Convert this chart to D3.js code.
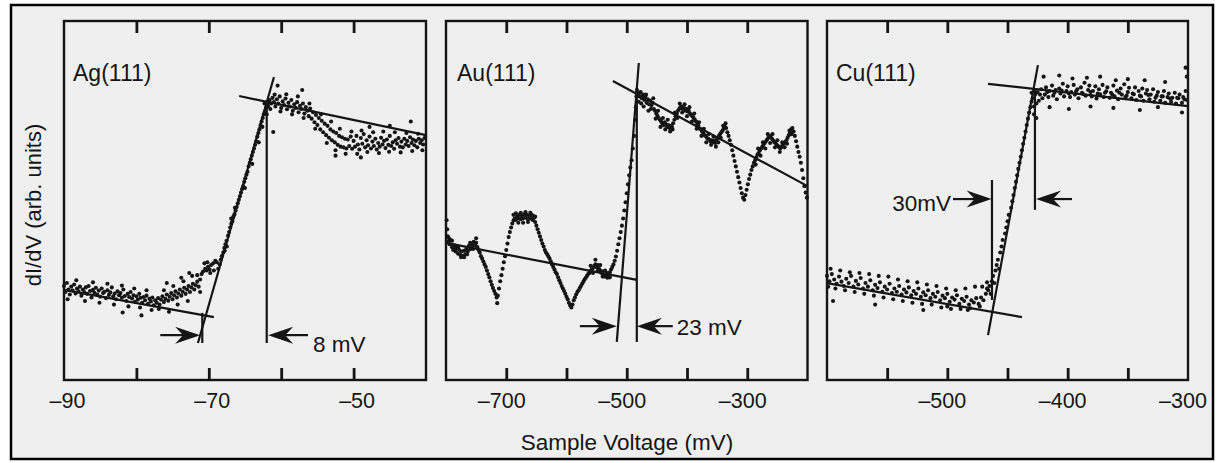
<!DOCTYPE html>
<html><head><meta charset="utf-8">
<script src="https://cdn.jsdelivr.net/npm/d3@7"></script>
<style>body{margin:0;background:#fff}</style>
</head><body>
<svg id="chart" width="1220" height="463"></svg>
<script>
// ---------- data (mV, dI/dV arb. units) ----------
const agTicks=[-80,-70,-60,-50];
const agLabelValues=[-90,-70,-50];
const agLabelText=["–90","–70","–50"];
const auTicks=[-700,-600,-500,-400,-300];
const auLabelValues=[-700,-500,-300];
const auLabelText=["–700","–500","–300"];
const cuTicks=[-550,-500,-450,-400,-350];
const cuLabelValues=[-500,-400,-300];
const cuLabelText=["–500","–400","–300"];

const agPoints=[
[-90.0,2.62],[-89.8,2.45],[-89.6,2.70],[-89.4,2.52],[-89.2,2.38],[-89.0,2.60],[-88.8,2.49],[-88.6,2.66],[-88.4,2.41],[-88.2,2.55],[-88.0,2.47],[-87.8,2.60],[-87.6,2.35],[-87.4,2.52],[-87.2,2.44],[-87.0,2.58],[-86.8,2.40],[-86.6,2.62],[-86.4,2.48],[-86.2,2.30],[-86.0,2.51],[-85.8,2.43],[-85.6,2.57],[-85.4,2.38],[-85.2,2.49],[-85.0,2.32],[-84.8,2.55],[-84.6,2.42],[-84.4,2.46],[-84.2,2.28],[-84.0,2.50],[-83.8,2.37],[-83.6,2.44],[-83.4,2.58],[-83.2,2.33],[-83.0,2.41],[-82.8,2.25],[-82.6,2.47],[-82.4,2.36],[-82.2,2.42],[-82.0,2.30],[-81.8,2.52],[-81.6,2.34],[-81.4,2.20],[-81.2,2.40],[-81.0,2.31],[-80.8,2.45],[-80.6,2.27],[-80.4,2.36],[-80.2,2.18],[-80.0,2.33],[-79.8,2.24],[-79.6,2.40],[-79.4,2.29],[-79.2,2.15],[-79.0,2.31],[-78.8,2.22],[-78.6,2.35],[-78.4,2.12],[-78.2,2.26],[-78.0,2.19],[-77.8,2.30],[-77.6,2.08],[-77.4,2.22],[-77.2,2.15],[-77.0,2.28],[-76.8,2.10],[-76.6,2.24],[-76.4,2.33],[-76.2,2.17],[-76.0,2.26],[-75.8,2.38],[-75.6,2.21],[-75.4,2.32],[-75.2,2.42],[-75.0,2.25],[-74.8,2.36],[-74.6,2.47],[-74.4,2.30],[-74.2,2.41],[-74.0,2.52],[-73.8,2.35],[-73.6,2.46],[-73.4,2.57],[-73.2,2.40],[-73.0,2.52],[-72.8,2.62],[-72.6,2.45],[-72.4,2.58],[-72.2,2.68],[-72.0,2.52],[-71.8,2.64],[-71.6,2.74],[-71.4,2.60],
[-89.5,2.25],[-88.3,2.78],[-87.1,2.20],[-86.0,2.72],[-85.1,2.15],[-84.0,2.68],[-83.1,2.10],[-82.0,2.63],[-81.1,2.05],[-80.3,2.55],[-79.5,2.02],[-78.6,2.50],[-77.9,1.95],[-76.9,1.98],[-76.2,2.50],[-75.5,1.90],[-74.9,2.62],[-74.3,2.10],[-73.5,2.75],[-72.9,2.20],[-72.3,2.90],[-71.2,2.45],[-75.8,2.70],[-71.6,2.92],[-79.3,1.80],[-81.9,1.88],[-73.8,2.85],[-72.7,2.98],
[-71.2,2.80],[-71.0,2.95],[-70.8,3.02],[-70.5,3.10],[-70.3,3.05],[-70.1,3.15],[-69.9,3.08],[-69.7,3.20],[-69.4,3.25],[-69.1,3.32],[-70.6,3.25],[-70.2,3.28],[-69.8,2.98],
[-68.7,3.10],[-68.5,3.22],[-68.35,3.35],[-68.2,3.45],[-68.0,3.55],[-67.85,3.68],[-67.7,3.78],[-67.55,3.88],[-67.35,4.02],[-67.2,4.12],[-67.05,4.25],[-66.9,4.35],[-66.75,4.42],[-66.6,4.55],[-66.45,4.62],[-66.3,4.72],[-66.15,4.82],[-66.0,4.92],[-65.85,5.02],[-65.7,5.12],[-65.55,5.22],[-65.4,5.32],[-65.25,5.40],[-65.1,5.52],[-64.95,5.62],[-64.8,5.72],[-64.65,5.80],[-64.5,5.95],[-64.35,6.05],[-64.2,6.15],[-64.05,6.25],[-63.9,6.35],[-63.75,6.45],[-63.6,6.55],[-63.45,6.65],[-63.3,6.78],[-63.15,6.88],[-63.0,6.98],[-62.85,7.10],[-62.7,7.20],[-62.55,7.30],[-62.4,7.40],[-62.25,7.48],[-62.1,7.58],[-61.95,7.65],
[-68.9,3.28],[-69.3,3.05],[-67.5,3.72],[-66.4,4.80],[-65.0,5.35],[-64.0,6.02],[-63.1,6.62],[-62.6,7.05],[-62.0,7.40],[-61.8,7.72],[-62.3,7.70],[-67.8,3.60],[-66.9,4.50],
[-61.8,7.62],[-61.6,7.80],[-61.4,7.70],[-61.2,7.86],[-61.0,7.74],[-60.8,7.62],[-60.6,7.82],[-60.4,7.70],[-60.2,7.90],[-60.0,7.58],[-59.8,7.76],[-59.6,7.66],[-59.4,7.84],[-59.2,7.54],[-59.0,7.72],[-58.8,7.62],[-58.6,7.80],[-58.4,7.50],[-58.2,7.68],[-58.0,7.58],[-57.8,7.74],[-57.6,7.46],[-57.4,7.64],[-57.2,7.55],[-57.0,7.70],[-56.8,7.42],[-56.6,7.60],[-56.4,7.50],[-56.2,7.35],[-56.0,7.56],[-55.8,7.28],[-55.6,7.46],[-55.4,7.18],[-55.2,7.38],[-55.0,7.10],[-54.8,7.30],[-54.6,6.98],[-54.4,7.22],[-54.2,6.90],[-54.0,7.14],[-53.8,6.82],[-53.6,7.08],[-53.4,6.75],[-53.2,6.98],[-53.0,6.68],[-52.8,6.92],[-52.6,6.62],[-52.4,6.88],[-52.2,6.55],[-52.0,6.80],[-51.8,6.50],[-51.6,6.76],[-51.4,6.48],[-51.2,6.72],[-51.0,6.45],[-50.8,6.70],[-50.6,6.52],[-50.4,6.78],[-50.2,6.44],[-50.0,6.66],[-49.8,6.50],[-49.6,6.80],[-49.4,6.56],[-49.2,6.42],[-49.0,6.74],[-48.8,6.58],[-48.6,6.85],[-48.4,6.48],[-48.2,6.68],[-48.0,6.54],[-47.8,6.78],[-47.6,6.45],[-47.4,6.64],[-47.2,6.52],[-47.0,6.72],[-46.8,6.42],[-46.6,6.60],[-46.4,6.50],[-46.2,6.75],[-46.0,6.56],[-45.8,6.66],[-45.6,6.46],[-45.4,6.70],[-45.2,6.55],[-45.0,6.80],[-44.8,6.52],[-44.6,6.62],[-44.4,6.44],[-44.2,6.68],[-44.0,6.58],[-43.8,6.74],[-43.6,6.50],[-43.4,6.64],[-43.2,6.48],[-43.0,6.72],[-42.8,6.56],[-42.6,6.66],[-42.4,6.52],[-42.2,6.76],[-42.0,6.60],[-41.8,6.70],[-41.6,6.54],[-41.4,6.66],[-41.2,6.48],[-41.0,6.72],[-40.8,6.60],[-40.6,6.68],[-40.4,6.56],[-40.2,6.74],
[-61.5,7.55],[-60.9,7.95],[-60.1,7.48],[-59.3,7.96],[-58.5,7.40],[-57.7,7.90],[-56.9,7.30],[-56.1,7.70],[-55.3,7.00],[-54.5,7.40],[-53.7,6.60],[-53.1,7.20],[-52.5,6.40],[-51.9,7.00],[-51.1,6.30],[-50.3,6.92],[-49.5,6.30],[-48.9,6.95],[-48.1,6.35],[-47.3,6.90],[-46.5,6.32],[-45.9,6.92],[-45.1,6.36],[-44.3,6.90],[-43.5,6.34],[-42.7,6.88],[-41.9,6.38],[-41.1,6.86],[-40.5,6.40],
[-57.1,8.08],[-61.1,6.91],[-60.5,8.20],[-45.0,7.08],[-42.1,7.20],[-47.8,7.05],[-52.5,6.25],[-49.0,6.20]
];

const auPoints=[
[-799,4.45],[-798,4.2],[-797,4.0],[-796,3.85],[-794,3.78],[-792,3.9],[-790,3.7],[-788,3.62],[-786,3.75],[-784,3.58],[-782,3.68],[-780,3.52],[-778,3.62],[-776,3.48],[-774,3.58],[-772,3.45],[-770,3.6],[-768,3.5],[-766,3.66],[-764,3.58],[-762,3.74],[-760,3.64],[-758,3.8],[-756,3.72],[-754,3.85],[-752,3.76],[-750,3.82],[-748,3.7],[-746,3.62],
[-744,3.55],[-742,3.45],[-740,3.38],[-738,3.3],[-736,3.22],[-734,3.15],[-732,3.05],[-730,2.95],[-728,2.86],[-726,2.75],[-724,2.65],[-722,2.56],[-720,2.48],[-718,2.4],[-716,2.3],[-715,2.14],[-714,2.35],[-712,2.55],[-710,2.75],[-708,2.92],[-706,3.1],[-704,3.28],[-702,3.45],[-700,3.62],[-698,3.8],[-696,3.98],[-694,4.12],[-692,4.25],[-690,4.36],[-688,4.44],[-686,4.5],[-684,4.46],[-682,4.56],[-680,4.5],[-678,4.6],[-676,4.48],[-674,4.58],[-672,4.5],[-670,4.62],[-668,4.52],[-666,4.6],[-664,4.48],[-662,4.58],[-660,4.5],[-658,4.6],[-656,4.46],[-654,4.52],[-652,4.4],[-650,4.3],[-648,4.2],[-646,4.1],[-644,4.0],[-642,3.9],[-640,3.8],[-638,3.72],[-636,3.62],[-634,3.55],[-632,3.5],[-630,3.44],[-628,3.38],[-626,3.3],[-624,3.22],[-622,3.15],[-620,3.08],[-618,3.0],[-616,2.95],[-614,2.86],[-612,2.78],[-610,2.7],[-608,2.62],[-606,2.55],[-604,2.48],[-602,2.4],[-600,2.32],[-598,2.25],[-596,2.15],[-594,2.08],[-592,2.02],[-590,2.1],[-588,2.22],[-586,2.3],[-584,2.38],[-582,2.45],[-580,2.5],[-578,2.56],[-576,2.62],[-574,2.68],[-572,2.74],[-570,2.8],[-568,2.85],[-566,2.9],[-564,2.95],[-562,2.98],[-560,3.04],[-558,3.08],[-556,3.12],[-554,3.18],[-552,3.22],[-550,3.14],[-548,3.2],[-546,3.1],[-544,3.05],[-542,2.98],[-540,3.02],[-538,2.92],[-536,2.88],[-534,2.95],[-532,2.85],[-530,2.9],[-528,3.0],[-526,3.08],[-524,3.15],[-522,3.22],[-520,3.32],[-518,3.44],[-516,3.6],[-514,3.78],[-512,3.95],[-510,4.12],[-508,4.3],[-506,4.5],[-504,4.72],[-502,4.95],[-500,5.2],[-498,5.45],[-496,5.7],[-494,5.92],[-492,6.12],[-490,6.45],[-488,6.8],[-486,7.25],[-485,7.6],[-484,7.9],[-483,8.08],
[-481,8.0],[-479,7.9],[-477,8.02],[-475,7.85],[-473,7.95],[-471,7.8],[-469,7.88],[-467,7.72],[-465,7.82],[-463,7.68],[-461,7.78],[-459,7.65],[-457,7.72],[-455,7.55],[-453,7.5],[-451,7.42],[-449,7.36],[-447,7.3],[-445,7.25],[-443,7.2],[-441,7.15],[-439,7.1],[-437,7.18],[-435,7.12],[-433,7.05],[-431,7.1],[-429,7.02],[-427,7.08],[-425,7.05],[-423,7.15],[-421,7.25],[-419,7.35],[-417,7.42],[-415,7.5],[-413,7.55],[-411,7.6],[-409,7.62],[-407,7.55],[-405,7.58],[-403,7.5],[-401,7.55],[-399,7.48],[-397,7.5],[-395,7.42],[-393,7.38],[-391,7.35],[-389,7.3],[-387,7.25],[-385,7.2],[-383,7.12],[-381,7.08],[-379,7.0],[-377,6.98],[-375,6.92],[-373,6.88],[-371,6.82],[-369,6.8],[-367,6.75],[-365,6.72],[-363,6.7],[-361,6.65],[-359,6.68],[-357,6.62],[-355,6.66],[-353,6.6],[-351,6.7],[-349,6.75],[-347,6.8],[-345,6.85],[-343,6.9],[-341,6.95],[-339,7.0],[-337,7.05],[-335,7.02],[-333,6.9],[-331,6.8],[-329,6.68],[-327,6.55],[-325,6.4],[-323,6.25],[-321,6.1],[-319,5.95],[-317,5.8],[-315,5.65],[-313,5.5],[-311,5.35],[-309,5.2],[-307,5.08],[-305,5.02],[-303,5.15],[-301,5.3],[-299,5.45],[-297,5.6],[-295,5.72],[-293,5.85],[-291,5.95],[-289,6.05],[-287,6.12],[-285,6.2],[-283,6.28],[-281,6.32],[-279,6.4],[-277,6.45],[-275,6.5],[-273,6.55],[-271,6.6],[-269,6.65],[-267,6.7],[-265,6.75],[-263,6.78],[-261,6.8],[-259,6.72],[-257,6.68],[-255,6.62],[-253,6.6],[-251,6.55],[-249,6.52],[-247,6.48],[-245,6.45],[-243,6.5],[-241,6.55],[-239,6.6],[-237,6.62],[-235,6.68],[-233,6.75],[-231,6.82],[-229,6.9],[-227,6.98],[-225,7.02],[-223,6.92],[-221,6.8],[-219,6.65],[-217,6.5],[-215,6.35],[-213,6.22],[-211,6.05],[-209,5.85],[-207,5.62],[-205,5.4],[-203,5.22],[-201,5.08],
[-795,3.95],[-790,3.88],[-785,3.65],[-780,3.7],[-775,3.42],[-770,3.42],[-765,3.5],[-760,3.82],[-755,3.65],[-750,3.95],
[-688,4.6],[-684,4.64],[-680,4.38],[-676,4.66],[-672,4.38],[-668,4.68],[-664,4.4],[-660,4.66],[-656,4.58],[-652,4.55],
[-560,3.18],[-556,2.98],[-552,3.35],[-548,3.05],[-544,3.2],[-540,2.88],[-536,3.05],[-532,2.98],[-528,2.86],
[-480,7.75],[-476,7.7],[-472,7.62],[-468,7.95],[-464,7.5],[-460,7.55],[-456,7.85],[-452,7.28],[-448,7.5],[-444,7.05],[-440,7.3],[-436,6.98],[-432,7.25],[-428,6.92],[-424,6.98],[-420,7.45],[-416,7.3],[-412,7.7],[-408,7.45],[-404,7.68],[-400,7.35],[-396,7.6],[-392,7.2],[-388,7.42],[-384,7.0],[-380,7.18],[-376,6.8],[-372,7.0],[-368,6.62],[-364,6.85],[-360,6.55],[-356,6.78],[-352,6.5],[-348,6.62],[-344,6.75],[-340,7.08],[-336,7.15],
[-286,6.0],[-282,6.45],[-278,6.25],[-274,6.62],[-270,6.45],[-266,6.85],[-262,6.6],[-258,6.85],[-254,6.48],[-250,6.68],[-246,6.35],[-242,6.62],[-238,6.48],[-234,6.58],[-230,6.95],[-226,6.85]
];

const cuPoints=[
[-600,2.9],[-598,2.75],[-596,2.95],[-594,2.8],[-592,2.68],[-590,2.88],[-588,2.74],[-586,2.62],[-584,2.82],[-582,2.7],[-580,2.9],[-578,2.6],[-576,2.76],[-574,2.66],[-572,2.84],[-570,2.55],[-568,2.7],[-566,2.6],[-564,2.78],[-562,2.5],[-560,2.65],[-558,2.56],[-556,2.72],[-554,2.46],[-552,2.6],[-550,2.52],[-548,2.68],[-546,2.42],[-544,2.55],[-542,2.46],[-540,2.62],[-538,2.38],[-536,2.52],[-534,2.44],[-532,2.58],[-530,2.36],[-528,2.48],[-526,2.4],[-524,2.55],[-522,2.32],[-520,2.44],[-518,2.36],[-516,2.5],[-514,2.28],[-512,2.4],[-510,2.32],[-508,2.45],[-506,2.22],[-504,2.35],[-502,2.28],[-500,2.4],[-498,2.18],[-496,2.3],[-494,2.24],[-492,2.36],[-490,2.12],[-488,2.26],[-486,2.2],[-484,2.32],[-482,2.1],[-480,2.22],[-478,2.16],[-476,2.28],[-474,2.12],[-472,2.3],[-470,2.22],[-468,2.4],[-466,2.5],[-465,2.62],[-463,2.75],[-462,2.9],[-460,3.05],[-459,3.2],[-458,3.35],[-456,3.55],[-455,3.72],[-454,3.9],[-452,4.08],[-451,4.25],[-450,4.42],[-449,4.6],[-447,4.8],[-446,4.98],[-445,5.15],[-444,5.35],[-443,5.52],[-442,5.7],[-441,5.88],[-440,6.05],[-439,6.22],[-438,6.4],[-437,6.58],[-436,6.75],[-435,6.92],[-434,7.1],[-433,7.28],[-432,7.45],[-431,7.6],[-430,7.75],
[-599,2.6],[-597,3.1],[-593,2.55],[-589,3.05],[-585,2.5],[-581,3.0],[-577,2.45],[-573,2.98],[-569,2.4],[-565,2.95],[-561,2.35],[-557,2.9],[-553,2.3],[-549,2.88],[-545,2.25],[-541,2.8],[-537,2.2],[-533,2.75],[-529,2.15],[-525,2.72],[-521,2.12],[-517,2.66],[-513,2.1],[-509,2.62],[-505,2.02],[-501,2.55],[-497,1.98],[-493,2.5],[-489,1.98],[-485,2.55],[-481,2.0],[-477,2.6],[-473,2.05],[-471,2.6],[-467,2.72],[-595,2.2],[-560,2.1],[-520,1.95],[-500,2.05],[-483,1.95],
[-467,2.55],[-464,2.4],[-461,2.7],[-457,3.1],
[-429,7.85],[-428,7.62],[-427,7.95],[-426,7.7],[-425,8.02],[-424,7.78],[-422,8.1],[-421,7.85],[-419,7.95],[-418,8.15],[-416,7.88],[-415,8.05],[-413,8.2],[-412,7.92],[-410,8.08],[-409,7.82],[-407,8.12],[-406,7.98],[-404,8.25],[-403,7.9],[-401,8.05],[-400,8.18],[-398,7.88],[-397,8.02],[-395,8.22],[-394,7.95],[-392,8.1],[-391,7.85],[-389,8.15],[-388,8.0],[-386,8.28],[-385,7.92],[-383,8.08],[-382,8.2],[-380,7.9],[-379,8.05],[-377,8.18],[-376,7.84],[-374,8.1],[-373,7.96],[-371,8.22],[-370,7.88],[-368,8.04],[-367,8.15],[-365,7.86],[-364,8.0],[-362,8.2],[-361,7.9],[-359,8.06],[-358,7.82],[-356,8.12],[-355,7.95],[-353,8.24],[-352,7.88],[-350,8.02],[-349,8.14],[-347,7.85],[-346,7.98],[-344,8.15],[-343,7.8],[-341,8.05],[-340,7.92],[-338,8.12],[-337,7.78],[-335,7.98],[-334,8.08],[-332,7.82],[-331,7.95],[-329,8.1],[-328,7.75],[-326,7.92],[-325,8.02],[-323,7.78],[-322,7.9],[-320,8.05],[-319,7.72],[-317,7.88],[-316,7.98],[-314,7.75],[-313,7.86],[-311,8.0],[-310,7.7],[-308,7.85],[-307,7.95],[-305,7.72],[-304,7.88],[-302,8.05],[-301,7.8],
[-420,8.45],[-407,8.48],[-396,8.4],[-384,8.42],[-373,8.45],[-360,8.35],[-350,8.38],[-336,8.35],[-319,8.3],[-302,8.7],[-301,8.45],[-415,7.6],[-399,7.55],[-381,7.62],[-362,7.58],[-340,7.52],[-325,7.6],[-305,7.45],[-430,8.0],[-428,7.4],[-426,7.3],
[-423,7.95],[-417,8.02],[-411,8.0],[-405,8.06],[-399,7.98],[-393,8.04],[-387,7.96],[-381,8.02],[-375,7.98],[-369,8.0],[-363,7.95],[-357,8.0],[-351,7.92],[-345,7.96],[-339,7.9],[-333,7.94],[-327,7.86],[-321,7.9],[-315,7.84],[-309,7.86],[-303,7.82]
];

// fitted straight lines [[x1,y1],[x2,y2]]
const agFits=[[[-65.8,7.91],[-40,6.82]],[[-61.0,8.44],[-71.5,1.03]],[[-90,2.51],[-69.3,1.75]]];
const auFits=[[[-523,8.33],[-200,5.40]],[[-480,8.83],[-516.5,1.06]],[[-800,3.82],[-483.3,2.79]]];
const cuFits=[[[-466.2,8.25],[-300,7.63]],[[-424.7,8.77],[-466.2,1.25]],[[-600,2.70],[-438,1.75]]];
// vertical marker lines [x, yTop, yBottom]
const agVerticals=[[-62.0,7.8,1.03],[-70.9,1.87,1.03]];
const auVerticals=[[-483.3,8.13,1.06]];
const cuVerticals=[[-462.9,5.57,2.23],[-427.2,8.13,4.74]];
// arrows [tailX, tipX, y]
const agArrows=[[-76.7,-71.2,1.25],[-56.3,-61.8,1.25]];
const auArrows=[[-577.8,-516.5,1.5],[-423.6,-483.3,1.5]];
const cuArrows=[[-495.3,-463.2,5.04],[-396.4,-426.3,5.04]];
// width labels [x, y, text, anchor]
const agNote=[-55.6,0.78,"8 mV","start"];
const auNote=[-417,1.25,"23 mV","start"];
const cuNote=[-497,4.71,"30mV","end"];

// ---------- drawing ----------
const FONT="'Liberation Sans', Arial, Helvetica, sans-serif";
const INK="#151515";
const svg=d3.select("#chart");
svg.append("rect").attr("x",11).attr("y",5).attr("width",1202).attr("height",454)
  .attr("fill","#efefef").attr("stroke","#000").attr("stroke-width",2.5);

const y=d3.scaleLinear().domain([0,10]).range([380,21]);

const panels=[
 {title:"Ag(111)",domain:[-90,-40],range:[64,426],ticks:agTicks,lv:agLabelValues,lt:agLabelText,ldx:3,points:agPoints,fits:agFits,verts:agVerticals,arrows:agArrows,note:agNote,tdx:9},
 {title:"Au(111)",domain:[-800,-200],range:[446,807.5],ticks:auTicks,lv:auLabelValues,lt:auLabelText,ldx:-5,points:auPoints,fits:auFits,verts:auVerticals,arrows:auArrows,note:auNote,tdx:11},
 {title:"Cu(111)",domain:[-600,-300],range:[827,1188],ticks:cuTicks,lv:cuLabelValues,lt:cuLabelText,ldx:-5.5,points:cuPoints,fits:cuFits,verts:cuVerticals,arrows:cuArrows,note:cuNote,tdx:9}
];

panels.forEach(p=>{
  const x=d3.scaleLinear().domain(p.domain).range(p.range);
  const g=svg.append("g");
  g.append("rect").attr("x",p.range[0]).attr("y",y(10)).attr("width",p.range[1]-p.range[0])
    .attr("height",y(0)-y(10)).attr("fill","none").attr("stroke",INK).attr("stroke-width",2.4);
  const bt=g.append("g").attr("transform",`translate(0,${y(0)})`)
    .call(d3.axisBottom(x).tickValues(p.ticks).tickSize(-12).tickSizeOuter(0).tickFormat(""));
  const tp=g.append("g").attr("transform",`translate(0,${y(10)})`)
    .call(d3.axisTop(x).tickValues(p.ticks).tickSize(-12).tickSizeOuter(0).tickFormat(""));
  [bt,tp].forEach(a=>{a.select(".domain").remove();a.selectAll("line").attr("stroke",INK).attr("stroke-width",2.8);});
  const lab=g.append("g").attr("transform",`translate(0,${y(0)})`)
    .call(d3.axisBottom(x).tickValues(p.lv).tickSize(0).tickPadding(13).tickFormat((d,i)=>p.lt[i]));
  lab.select(".domain").remove();
  lab.attr("font-family",FONT).attr("font-size",21.5);
  lab.selectAll("text").attr("fill",INK).attr("dx",p.ldx);

  g.selectAll("line.fit").data(p.fits).join("line").attr("class","fit")
    .attr("x1",d=>x(d[0][0])).attr("y1",d=>y(d[0][1])).attr("x2",d=>x(d[1][0])).attr("y2",d=>y(d[1][1]))
    .attr("stroke",INK).attr("stroke-width",2.2);
  g.selectAll("line.vert").data(p.verts).join("line").attr("class","vert")
    .attr("x1",d=>x(d[0])).attr("x2",d=>x(d[0])).attr("y1",d=>y(d[1])).attr("y2",d=>y(d[2]))
    .attr("stroke",INK).attr("stroke-width",2.2);

  g.selectAll("circle").data(p.points).join("circle")
    .attr("cx",d=>x(d[0])).attr("cy",d=>y(d[1])).attr("r",2.05).attr("fill",INK);

  p.arrows.forEach(a=>{
    const t0=x(a[0]),t1=x(a[1]),yy=y(a[2]),s=t1>t0?1:-1;
    g.append("line").attr("x1",t0).attr("x2",t1-s*14).attr("y1",yy).attr("y2",yy)
      .attr("stroke",INK).attr("stroke-width",2.2);
    g.append("path").attr("d",`M${t1},${yy}L${t1-s*25},${yy-8.5}L${t1-s*17},${yy}L${t1-s*25},${yy+8.5}Z`)
      .attr("fill",INK);
  });
  g.append("text").attr("x",x(p.note[0])).attr("y",y(p.note[1])).attr("text-anchor",p.note[3])
    .attr("font-family",FONT).attr("font-size",22.5).attr("fill",INK).text(p.note[2]);
  g.append("text").attr("x",p.range[0]+p.tdx).attr("y",81)
    .attr("font-family",FONT).attr("font-size",23).attr("fill",INK).text(p.title);
});

svg.append("text").attr("transform","translate(41,205) rotate(-90)").attr("text-anchor","middle")
  .attr("font-family",FONT).attr("font-size",22).attr("fill",INK).text("dI/dV (arb. units)");
svg.append("text").attr("x",627).attr("y",450).attr("text-anchor","middle")
  .attr("font-family",FONT).attr("font-size",22.5).attr("fill",INK).text("Sample Voltage (mV)");
</script>
</body></html>
